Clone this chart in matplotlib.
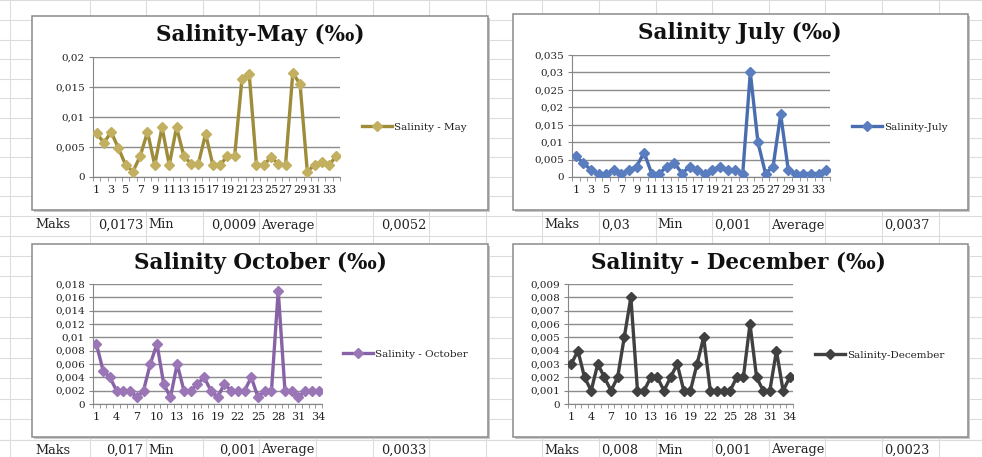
import matplotlib
matplotlib.use("Agg")
import matplotlib.pyplot as plt
from matplotlib.patches import Rectangle
import numpy as np

plt.rcParams["font.family"] = ["DejaVu Serif"]

W, H = 982, 457

# ── data ──────────────────────────────────────────────────────────────────────
stations = list(range(1, 35))

may = [0.0073, 0.0057, 0.0075, 0.0048, 0.0020, 0.0009, 0.0035, 0.0075, 0.0020, 0.0083,
       0.0020, 0.0083, 0.0035, 0.0022, 0.0022, 0.0072, 0.0020, 0.0020, 0.0035, 0.0035,
       0.0163, 0.0172, 0.0020, 0.0020, 0.0033, 0.0022, 0.0020, 0.0173, 0.0155, 0.0009,
       0.0020, 0.0025, 0.0020, 0.0035]
july = [0.006, 0.004, 0.002, 0.001, 0.001, 0.002, 0.001, 0.002, 0.003, 0.007,
        0.001, 0.001, 0.003, 0.004, 0.001, 0.003, 0.002, 0.001, 0.002, 0.003,
        0.002, 0.002, 0.001, 0.030, 0.010, 0.001, 0.003, 0.018, 0.002, 0.001,
        0.001, 0.001, 0.001, 0.002]
october = [0.009, 0.005, 0.004, 0.002, 0.002, 0.002, 0.001, 0.002, 0.006, 0.009,
           0.003, 0.001, 0.006, 0.002, 0.002, 0.003, 0.004, 0.002, 0.001, 0.003,
           0.002, 0.002, 0.002, 0.004, 0.001, 0.002, 0.002, 0.017, 0.002, 0.002,
           0.001, 0.002, 0.002, 0.002]
december = [0.003, 0.004, 0.002, 0.001, 0.003, 0.002, 0.001, 0.002, 0.005, 0.008,
            0.001, 0.001, 0.002, 0.002, 0.001, 0.002, 0.003, 0.001, 0.001, 0.003,
            0.005, 0.001, 0.001, 0.001, 0.001, 0.002, 0.002, 0.006, 0.002, 0.001,
            0.001, 0.004, 0.001, 0.002]

may_yticks = [0, 0.005, 0.01, 0.015, 0.02]
may_ylabels = ["0", "0,005", "0,01", "0,015", "0,02"]
july_yticks = [0, 0.005, 0.01, 0.015, 0.02, 0.025, 0.03, 0.035]
july_ylabels = ["0", "0,005", "0,01", "0,015", "0,02", "0,025", "0,03", "0,035"]
october_yticks = [0, 0.002, 0.004, 0.006, 0.008, 0.01, 0.012, 0.014, 0.016, 0.018]
october_ylabels = ["0", "0,002", "0,004", "0,006", "0,008", "0,01", "0,012", "0,014", "0,016", "0,018"]
december_yticks = [0, 0.001, 0.002, 0.003, 0.004, 0.005, 0.006, 0.007, 0.008, 0.009]
december_ylabels = ["0", "0,001", "0,002", "0,003", "0,004", "0,005", "0,006", "0,007", "0,008", "0,009"]

may_xlabels = [1, 3, 5, 7, 9, 11, 13, 15, 17, 19, 21, 23, 25, 27, 29, 31, 33]
july_xlabels = may_xlabels
october_xlabels = [1, 4, 7, 10, 13, 16, 19, 22, 25, 28, 31, 34]
december_xlabels = october_xlabels

may_stats = ["Maks", "0,0173", "Min", "0,0009", "Average", "", "0,0052"]
july_stats = ["Maks", "0,03", "Min", "0,001", "Average", "", "0,0037"]
october_stats = ["Maks", "0,017", "Min", "0,001", "Average", "", "0,0033"]
december_stats = ["Maks", "0,008", "Min", "0,001", "Average", "", "0,0023"]


def fx(x):
    return x / W


def fy(y):
    return 1 - y / H


fig = plt.figure(figsize=(W / 100, H / 100), dpi=100)
fig.patch.set_facecolor("white")

# ── spreadsheet background ────────────────────────────────────────────────────
bg = fig.add_axes([0, 0, 1, 1])
bg.set_xlim(0, W)
bg.set_ylim(H, 0)
bg.axis("off")

col_w = 56.6
cols = [10] + [33 + col_w * k for k in range(1, 17)]
for x in cols:
    bg.plot([x, x], [0, H], color="#dcdcdc", lw=0.8)
rows = list(np.arange(216, -1, -19.6)) + list(np.arange(235.6, 440, 20.4)) + [440, 460]
for y in rows:
    bg.plot([0, W], [y, y], color="#dcdcdc", lw=0.8)

boxes = [(32, 16, 456, 194), (513, 14, 455, 196), (32, 244, 456, 193), (513, 244, 455, 193)]
for (x0, y0, w, h) in boxes:
    bg.add_patch(Rectangle((x0 + 2, y0 + 2), w, h, facecolor="#c8c8c8", edgecolor="none", zorder=2))
    bg.add_patch(Rectangle((x0, y0), w, h, facecolor="white", edgecolor="#8a8a8a", lw=1.1, zorder=3))

# stats rows under each chart
left_cols = [33 + col_w * k for k in range(8)]
right_cols = [542.6 + col_w * k for k in range(8)]
for stats, y in [(may_stats, 225), (october_stats, 450)]:
    for i, s in enumerate(stats):
        if i % 2 == 1 or i == 6:
            bg.text(left_cols[i + 1] - 3, y, s, ha="right", va="center", fontsize=9.3, color="#222222")
        else:
            bg.text(left_cols[i] + 2, y, s, ha="left", va="center", fontsize=9.3, color="#222222")
for stats, y in [(july_stats, 225), (december_stats, 450)]:
    for i, s in enumerate(stats):
        bg.text(right_cols[i] + 2, y, s, ha="left", va="center", fontsize=9.3, color="#222222")


# ── the four line charts ──────────────────────────────────────────────────────
def chart(rect, values, yticks, ylabels, xlabels, color, mcolor, title, title_xy, label, leg_xy):
    x0, y0, x1, y1 = rect
    ax = fig.add_axes([fx(x0), fy(y1), fx(x1 - x0), (y1 - y0) / H], zorder=5)
    ax.set_facecolor("none")
    ax.plot(stations, values, color=color, lw=2.4, marker="D", markersize=5.2,
            markerfacecolor=mcolor, markeredgecolor=mcolor, label=label, zorder=3)
    ax.set_xlim(0.5, len(stations) + 0.5)
    ax.set_ylim(yticks[0], yticks[-1])
    ax.set_yticks(yticks)
    ax.set_yticklabels(ylabels)
    ax.set_xticks(xlabels)
    ax.set_xticklabels([str(v) for v in xlabels])
    ax.set_xticks(np.arange(0.5, len(stations) + 1, 1), minor=True)
    ax.tick_params(axis="x", which="major", length=0, pad=6, labelsize=8, labelcolor="#222222")
    ax.tick_params(axis="x", which="minor", length=3, color="#868686", direction="out")
    ax.tick_params(axis="y", length=3, color="#868686", pad=3, labelsize=7.5, labelcolor="#222222")
    ax.grid(axis="y", color="#8c8c8c", lw=1.0)
    ax.set_axisbelow(True)
    for s in ["top", "right"]:
        ax.spines[s].set_visible(False)
    for s in ["left", "bottom"]:
        ax.spines[s].set_color("#868686")
    fig.text(fx(title_xy[0]), fy(title_xy[1]), title, ha="center", va="center",
             fontsize=15.5, fontweight="bold", color="#111111", zorder=6)
    ax.legend(loc="center left", bbox_to_anchor=(fx(leg_xy[0]), fy(leg_xy[1])),
              bbox_transform=fig.transFigure, frameon=False, fontsize=7.5,
              handlelength=2.9, handletextpad=0.15, borderpad=0, borderaxespad=0,
              labelcolor="#222222")
    return ax


chart((93, 57, 340, 177), may, may_yticks, may_ylabels, may_xlabels,
      "#9e8c3a", "#c2b060", "Salinity-May (‰)", (260, 35), "Salinity - May", (362, 127))
chart((572, 55, 830, 177), july, july_yticks, july_ylabels, july_xlabels,
      "#4a6db0", "#5a7dc0", "Salinity July (‰)", (740, 33), "Salinity-July", (852, 127))
chart((93, 284, 322, 404), october, october_yticks, october_ylabels, october_xlabels,
      "#8862a6", "#9a76b6", "Salinity October (‰)", (260, 263), "Salinity - October", (343, 354))
chart((568, 284, 793, 404), december, december_yticks, december_ylabels, december_xlabels,
      "#404040", "#404040", "Salinity - December (‰)", (738, 263), "Salinity-December", (815, 355))

plt.savefig("out.png", dpi=100, facecolor=fig.get_facecolor())
plt.close()
